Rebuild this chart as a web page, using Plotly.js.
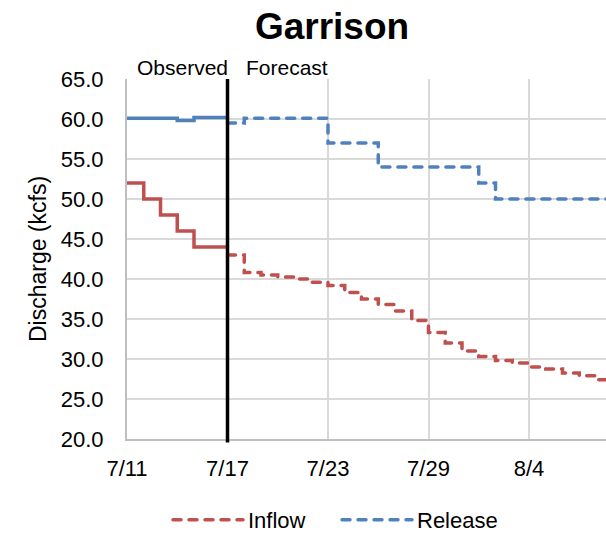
<!DOCTYPE html>
<html>
<head>
<meta charset="utf-8">
<script src="https://cdn.plot.ly/plotly-3.0.1.min.js"></script>
<style>
  html, body { margin: 0; padding: 0; background: #fff; }
  #chart { width: 606px; height: 533px; }
  #chart .scatterlayer .js-line, #chart .legendlines path { stroke-linecap: round; }
</style>
</head>
<body>
<div id="chart"></div>
<script>
// ---- data ----
const chartTitle = 'Garrison';
const yAxisTitle = 'Discharge (kcfs)';
const seriesNames = ['Inflow', 'Release'];
const seriesColors = ['#C0504D', '#4F81BD'];

// observed (solid), daily values, last point repeats to close the step at 7/17
const observedDates = ['2023-07-11','2023-07-12','2023-07-13','2023-07-14','2023-07-15','2023-07-16','2023-07-17'];
const observedInflow = [52.0, 50.0, 48.0, 46.0, 44.0, 44.0, 44.0];
const observedRelease = [60.1, 60.1, 60.1, 59.8, 60.2, 60.2, 60.2];

// forecast (dashed)
const forecastDates = ['2023-07-17','2023-07-18','2023-07-19','2023-07-20','2023-07-21','2023-07-22',
  '2023-07-23','2023-07-24','2023-07-25','2023-07-26','2023-07-27','2023-07-28','2023-07-29',
  '2023-07-30','2023-07-31','2023-08-01','2023-08-02','2023-08-03','2023-08-04','2023-08-05',
  '2023-08-06','2023-08-07','2023-08-08','2023-08-09'];
const forecastInflow = [43.0, 40.8, 40.5, 40.25, 40.0, 39.6, 39.2, 38.3, 37.5, 36.8, 36.0, 34.8, 33.3,
  32.0, 31.0, 30.3, 29.8, 29.5, 29.0, 28.75, 28.25, 27.9, 27.4, 27.1];
const forecastRelease = [59.5, 60.1, 60.1, 60.1, 60.1, 60.1, 57.0, 57.0, 57.0, 54.0, 54.0, 54.0, 54.0,
  54.0, 54.0, 52.0, 50.0, 50.0, 50.0, 50.0, 50.0, 50.0, 50.0, 50.0];

const forecastStart = '2023-07-17';
const phaseLabels = ['Observed', 'Forecast'];

const xTickVals = ['2023-07-11','2023-07-17','2023-07-23','2023-07-29','2023-08-04'];
const xTickText = ['7/11','7/17','7/23','7/29','8/4'];
const xRange = ['2023-07-11 00:00', '2023-08-08 14:20'];
const yRange = [20, 65];

// ---- traces ----
const FONT = 'Liberation Sans, Arial, sans-serif';
const LW = 3.5;
const DASH = '8px,8px';

const traces = [
  { x: observedDates, y: observedInflow, type: 'scatter', mode: 'lines', line: {shape: 'hv', color: seriesColors[0], width: LW}, showlegend: false, hoverinfo: 'skip' },
  { x: observedDates, y: observedRelease, type: 'scatter', mode: 'lines', line: {shape: 'hv', color: seriesColors[1], width: LW}, showlegend: false, hoverinfo: 'skip' },
  { x: forecastDates, y: forecastInflow, type: 'scatter', mode: 'lines', name: seriesNames[0], line: {shape: 'hv', color: seriesColors[0], width: LW, dash: DASH} },
  { x: forecastDates, y: forecastRelease, type: 'scatter', mode: 'lines', name: seriesNames[1], line: {shape: 'hv', color: seriesColors[1], width: LW, dash: DASH} }
];

const layout = {
  width: 606, height: 533,
  margin: {l: 127, r: 0, t: 79, b: 94, pad: 0},
  paper_bgcolor: '#ffffff', plot_bgcolor: '#ffffff',
  font: {family: FONT, size: 22, color: '#000000'},
  title: {text: '<b>' + chartTitle + '</b>', font: {family: FONT, size: 37, color: '#000'},
          x: 332/606, xref: 'container', xanchor: 'center', y: 1 - 26/533, yref: 'container', yanchor: 'middle'},
  xaxis: {
    type: 'date', range: xRange,
    tickmode: 'array', tickvals: xTickVals, ticktext: xTickText,
    showgrid: true, gridcolor: '#D9D9D9', gridwidth: 2,
    showline: true, linecolor: '#BFBFBF', linewidth: 2,
    ticks: '', ticklabelstandoff: 9,
    tickfont: {family: FONT, size: 22, color: '#000'},
    zeroline: false, fixedrange: true
  },
  yaxis: {
    range: yRange, dtick: 5, tick0: 20, tickformat: '.1f',
    showgrid: true, gridcolor: '#D9D9D9', gridwidth: 2,
    showline: true, linecolor: '#BFBFBF', linewidth: 2,
    ticks: '', ticklabelstandoff: 17,
    tickfont: {family: FONT, size: 22, color: '#000'},
    title: {text: yAxisTitle, font: {family: FONT, size: 23, color: '#000'}, standoff: 8},
    zeroline: false, fixedrange: true
  },
  shapes: [
    {type: 'line', xref: 'x', yref: 'paper', x0: forecastStart, x1: forecastStart, y0: -0.01, y1: 1.0,
     line: {color: '#000000', width: 3.5}}
  ],
  annotations: [
    {text: phaseLabels[0], xref: 'x', yref: 'paper', x: forecastStart, y: 1, xanchor: 'right', yanchor: 'bottom',
     xshift: 2, yshift: -2, showarrow: false, font: {family: FONT, size: 21, color: '#000'}},
    {text: phaseLabels[1], xref: 'x', yref: 'paper', x: forecastStart, y: 1, xanchor: 'left', yanchor: 'bottom',
     xshift: 16, yshift: -2, showarrow: false, font: {family: FONT, size: 21, color: '#000'}}
  ],
  showlegend: true,
  legend: {orientation: 'h', xref: 'container', yref: 'container', x: 337/606, xanchor: 'center',
           y: 1 - 520/533, yanchor: 'middle', itemwidth: 70, entrywidth: 84, entrywidthmode: 'pixels',
           font: {family: FONT, size: 22, color: '#000'},
           bgcolor: 'rgba(0,0,0,0)', tracegroupgap: 0}
};

Plotly.newPlot('chart', traces, layout, {displayModeBar: false, staticPlot: true});
</script>
</body>
</html>
